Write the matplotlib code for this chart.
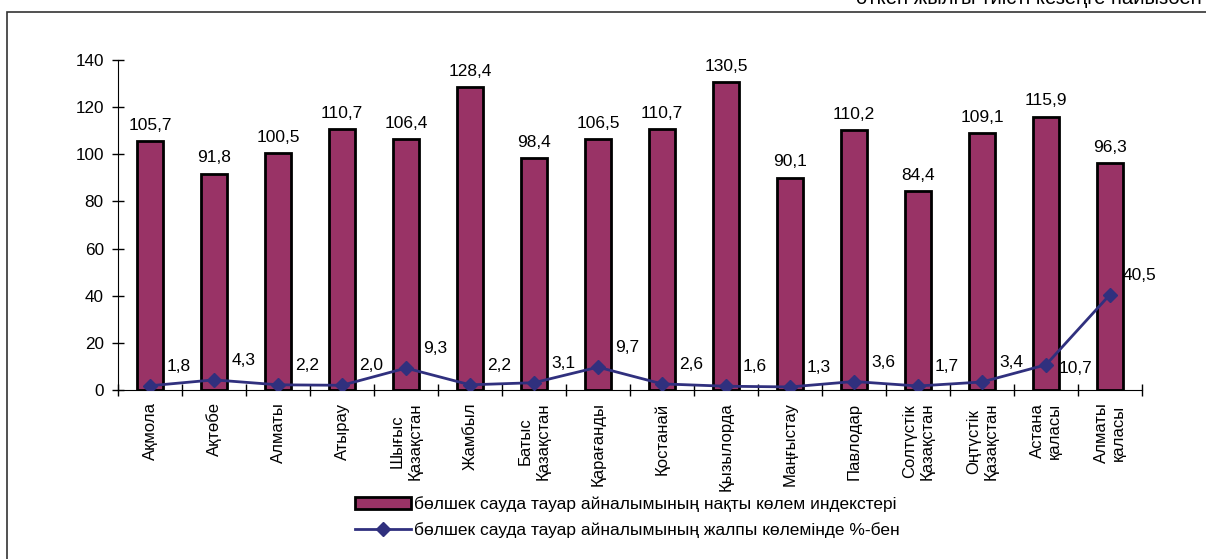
import matplotlib
matplotlib.use("Agg")
import matplotlib.pyplot as plt
from matplotlib.patches import Rectangle

plt.rcParams['font.family'] = ['Liberation Sans', 'DejaVu Sans']

# regions (two-line names as in the original)
regions = ['Ақмола', 'Ақтөбе', 'Алматы', 'Атырау', 'Шығыс\nҚазақстан', 'Жамбыл',
           'Батыс\nҚазақстан', 'Қарағанды', 'Қостанай', 'Қызылорда', 'Маңғыстау',
           'Павлодар', 'Солтүстік\nҚазақстан', 'Оңтүстік\nҚазақстан',
           'Астана\nқаласы', 'Алматы\nқаласы']

# real volume index of retail trade turnover
volume_index = [105.7, 91.8, 100.5, 110.7, 106.4, 128.4, 98.4, 106.5, 110.7,
                130.5, 90.1, 110.2, 84.4, 109.1, 115.9, 96.3]

# share in total retail turnover, %
share_pct = [1.8, 4.3, 2.2, 2.0, 9.3, 2.2, 3.1, 9.7, 2.6, 1.6, 1.3, 3.6, 1.7,
             3.4, 10.7, 40.5]

bar_label = 'бөлшек сауда тауар айналымының нақты көлем индекстері'
line_label = 'бөлшек сауда тауар айналымының жалпы көлемінде %-бен'
top_note = 'өткен жылғы тиісті кезеңге пайызбен'

bar_color = '#993366'
line_color = '#30307e'


def fmt(v):
    return f'{v:.1f}'.replace('.', ',')


fig = plt.figure(figsize=(12.06, 5.59), dpi=100)
ax = fig.add_axes([118 / 1206, 1 - 390 / 559, 1024 / 1206, 330 / 559])

x = list(range(len(regions)))
bars = ax.bar(x, volume_index, width=0.4, color=bar_color, edgecolor='black',
              linewidth=2, label=bar_label, zorder=2)
ax.bar_label(bars, labels=[fmt(v) for v in volume_index], padding=6, fontsize=12.5)

line, = ax.plot(x, share_pct, color=line_color, linewidth=2, marker='D',
                markersize=7.5, label=line_label, zorder=3)
for i, v in enumerate(share_pct):
    dx, dy = 21, 14
    if i == len(share_pct) - 2:
        dy = -3
    ax.annotate(fmt(v), (i, v), xytext=(dx, dy), textcoords='offset points',
                ha='center', va='center', fontsize=12.5)

ax.set_xlim(-0.5, len(regions) - 0.5)
ax.set_ylim(0, 140)
ax.set_yticks(range(0, 141, 20))
ax.tick_params(axis='y', direction='inout', length=8.5, width=1, labelsize=12.3, pad=6)

ax.set_xticks([i - 0.5 for i in range(len(regions) + 1)])
ax.set_xticklabels([])
ax.tick_params(axis='x', which='major', direction='inout', length=8.5, width=1)
ax.set_xticks(x, minor=True)
ax.set_xticklabels(regions, minor=True, rotation=90, ha='center', va='top',
                   multialignment='center', fontsize=12, linespacing=1.2)
ax.tick_params(axis='x', which='minor', length=0, pad=9)

for s in ['top', 'right']:
    ax.spines[s].set_visible(False)

fig.legend([bars, line], [bar_label, line_label], loc='upper left',
           bbox_to_anchor=(355 / 1206, 1 - 496 / 559),
           frameon=False, fontsize=12.5, handlelength=3.2, handletextpad=0.2,
           labelspacing=0.6, borderpad=0, borderaxespad=0)

# outer chart frame, partly cut off at the right and bottom
fig.patches.append(Rectangle((7 / 1206, -0.2), 1.2, 1.2 - 12 / 559,
                             transform=fig.transFigure, fill=False,
                             edgecolor='#333333', linewidth=1.2))
fig.text(1202 / 1206, 1 - 4 / 559, top_note, ha='right', va='baseline', fontsize=14.6)

fig.savefig('out.png', dpi=100)
